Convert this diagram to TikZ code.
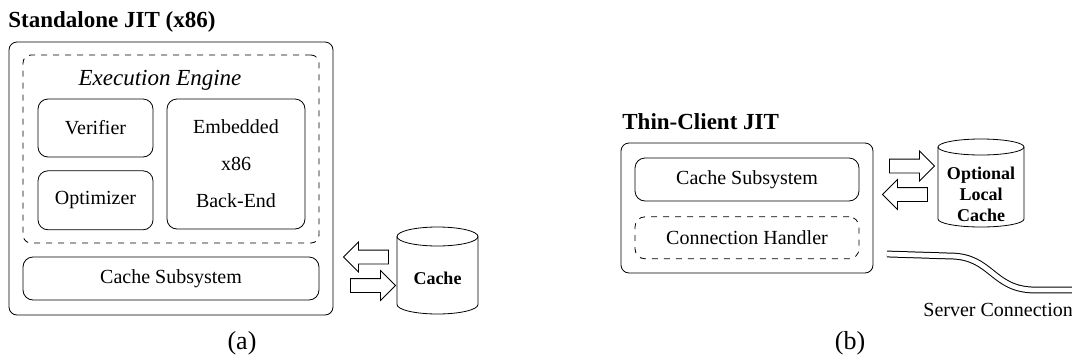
\documentclass[tikz,border=0pt]{standalone}
\usepackage{fontspec}
\setmainfont{Liberation Serif}
\usepackage{tikz}
\usetikzlibrary{shapes,arrows}
\usetikzlibrary{positioning}
\usetikzlibrary{calc}
\tikzstyle{frame} = [draw, rounded corners=4pt, inner sep=0pt]
\tikzstyle{block} = [draw, rounded corners=5pt, inner sep=0pt,
    font=\fontsize{10}{12}\selectfont]
\tikzstyle{title} = [anchor=west, inner sep=0pt, font=\fontsize{11.5}{14}\selectfont\bfseries]
\tikzstyle{caption} = [inner sep=0pt, font=\fontsize{13}{15}\selectfont]
\tikzstyle{dbtext} = [inner sep=0pt, align=center, font=\fontsize{9}{10.5}\selectfont\bfseries]
\tikzstyle{larrow} = [draw, single arrow, shape border rotate=180, inner sep=3.25pt,
    minimum height=22.5pt, single arrow head extend=4pt]
\tikzstyle{rarrow} = [draw, single arrow, inner sep=3.25pt,
    minimum height=22.5pt, single arrow head extend=4pt]
\tikzstyle{link} = [double, double distance=2.4pt, line width=0.5pt]

\begin{document}
\begin{tikzpicture}[x=0.5pt, y=-0.5pt, node distance=7pt, >=latex']
    \useasboundingbox (0,0) rectangle (1072,360);

    % (a) the standalone JIT with its own back-end
    \node [title] (titleA) at (8,22) {Standalone JIT (x86)};
    \node [frame, minimum width=162pt, minimum height=136.5pt] (jitA) at (171,178.5) {};
    \node [frame, dashed, minimum width=148pt, minimum height=94pt] (engine) at (171,149) {};
    \node [inner sep=0pt, font=\fontsize{11.5}{14}\selectfont\itshape] (engineLbl) at (160,80) {Execution Engine};
    \node [block, minimum width=57.5pt, minimum height=29pt] (verifier) at (95.5,128) {Verifier};
    \node [block, minimum width=57.5pt, minimum height=29.5pt, below=6.5pt of verifier] (optimizer) {Optimizer};
    \node [block, minimum width=69pt, minimum height=65pt, align=center,
        font=\fontsize{10}{18.5}\selectfont] (backend) at (236,164) {Embedded\\x86\\Back-End};
    \node [block, minimum width=148pt, minimum height=21.5pt] (cacheSubA) at (171,278.5) {Cache Subsystem};

    % arrows to and from the cache
    \node [larrow] (getA) at (369.5,257) {};
    \node [rarrow] (putA) at (369.5,285.5) {};

    % the cache drum
    \draw (397,236.5) -- (397,304.5)
        arc [start angle=180, end angle=360, x radius=20.25pt, y radius=4.75pt] -- (478,236.5);
    \draw (437.5,236.5) ellipse [x radius=20.25pt, y radius=4.75pt];
    \node [dbtext] (cacheA) at (437.5,278) {Cache};
    \node [caption] (capA) at (242,343) {(a)};

    % (b) the thin client
    \node [title] (titleB) at (622,122) {Thin-Client JIT};
    \node [frame, minimum width=126pt, minimum height=65pt] (jitB) at (747,208) {};
    \node [block, minimum width=112pt, minimum height=21.5pt] (cacheSubB) at (747,179.5) {Cache Subsystem};
    \node [block, dashed, minimum width=112pt, minimum height=21pt, below=7.5pt of cacheSubB] (connHandler) {Connection Handler};
    \node [rarrow] (putB) at (908.5,166) {};
    \node [larrow] (getB) at (908.5,194.5) {};

    % the optional local drum
    \draw (938,147) -- (938,219)
        arc [start angle=180, end angle=360, x radius=21.5pt, y radius=4pt] -- (1024,147);
    \draw (981,147) ellipse [x radius=21.5pt, y radius=4pt];
    \node [dbtext] (localCache) at (981,194) {Optional\\Local\\Cache};

    % link to the server
    \coordinate (linkStart) at (887,254);
    \coordinate (linkEnd) at (1090,290);
    \draw [link] (linkStart) -- (950,256) .. controls (992,256) and (992,290) .. (1035,290) -- (linkEnd);
    \node [anchor=west, inner sep=0pt, font=\fontsize{10}{12}\selectfont] (srvLbl) at (923,310) {Server Connection};
    \node [caption] (capB) at (850,343) {(b)};
\end{tikzpicture}
\end{document}
